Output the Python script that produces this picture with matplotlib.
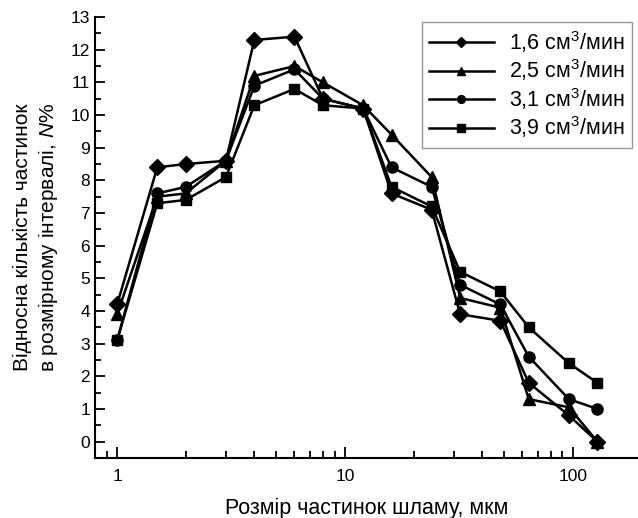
import matplotlib
matplotlib.use('Agg')
import matplotlib.pyplot as plt
from matplotlib.ticker import LogLocator, FixedLocator, NullFormatter, MultipleLocator

plt.rcParams['font.family'] = ['Liberation Sans', 'DejaVu Sans']
plt.rcParams['mathtext.fontset'] = 'custom'
plt.rcParams['mathtext.it'] = 'Liberation Sans:italic'
plt.rcParams['mathtext.rm'] = 'Liberation Sans'

size = [1, 1.5, 2, 3, 4, 6, 8, 12, 16, 24, 32, 48, 64, 96, 128]
q16 = [4.2, 8.4, 8.5, 8.6, 12.3, 12.4, 10.5, 10.2, 7.6, 7.1, 3.9, 3.7, 1.8, 0.8, 0.0]
q25 = [3.9, 7.5, 7.6, 8.6, 11.2, 11.5, 11.0, 10.3, 9.4, 8.1, 4.4, 4.1, 1.3, 1.05, 0.0]
q31 = [3.1, 7.6, 7.8, 8.6, 10.9, 11.4, 10.5, 10.2, 8.4, 7.8, 4.8, 4.2, 2.6, 1.3, 1.0]
q39 = [3.1, 7.3, 7.4, 8.1, 10.3, 10.8, 10.3, 10.2, 7.8, 7.2, 5.2, 4.6, 3.5, 2.4, 1.8]

labels = ['1,6 см$^3$/мин', '2,5 см$^3$/мин', '3,1 см$^3$/мин', '3,9 см$^3$/мин']

fig = plt.figure(figsize=(6.38, 5.18), dpi=100)
ax = fig.add_axes([0.149, 0.116, 0.851, 0.851])

ax.plot(size, q16, '-D', color='black', lw=1.8, ms=8, label=labels[0])
ax.plot(size, q25, '-^', color='black', lw=1.8, ms=8.5, label=labels[1])
ax.plot(size, q31, '-o', color='black', lw=1.8, ms=8, label=labels[2])
ax.plot(size, q39, '-s', color='black', lw=1.8, ms=7.5, label=labels[3])

ax.set_xscale('log')
ax.set_xlim(0.8, 193)
ax.set_ylim(-0.5, 13)
ax.set_yticks(range(0, 14))
ax.yaxis.set_minor_locator(MultipleLocator(0.5))
ax.xaxis.set_major_locator(FixedLocator([1, 10, 100]))
ax.set_xticklabels(['1', '10', '100'])
ax.xaxis.set_minor_locator(LogLocator(base=10, subs=range(2, 10)))
ax.xaxis.set_minor_formatter(NullFormatter())

for s in ['top', 'right']:
    ax.spines[s].set_visible(False)
for s in ['left', 'bottom']:
    ax.spines[s].set_linewidth(1.5)

ax.tick_params(which='both', direction='in', width=1.3, labelsize=12.5)
ax.tick_params(axis='y', which='major', length=7)
ax.tick_params(axis='y', which='minor', length=4)
ax.tick_params(axis='x', which='major', length=8, pad=8)
ax.tick_params(axis='x', which='minor', length=5)

ax.set_xlabel('Розмір частинок шламу, мкм', fontsize=15.5, labelpad=10)
ax.set_ylabel('Відносна кількість частинок\nв розмірному інтервалі, $\\it{N}$%', fontsize=15, labelpad=8)

leg = ax.legend(loc='upper right', bbox_to_anchor=(0.989, 0.99), borderaxespad=0,
                fontsize=15.5, frameon=True, fancybox=False, edgecolor='gray',
                handlelength=3.0, markerscale=0.7, borderpad=0.35,
                labelspacing=0.12, handletextpad=0.7)
leg.get_frame().set_linewidth(1.0)

fig.savefig('out.png', dpi=100)
